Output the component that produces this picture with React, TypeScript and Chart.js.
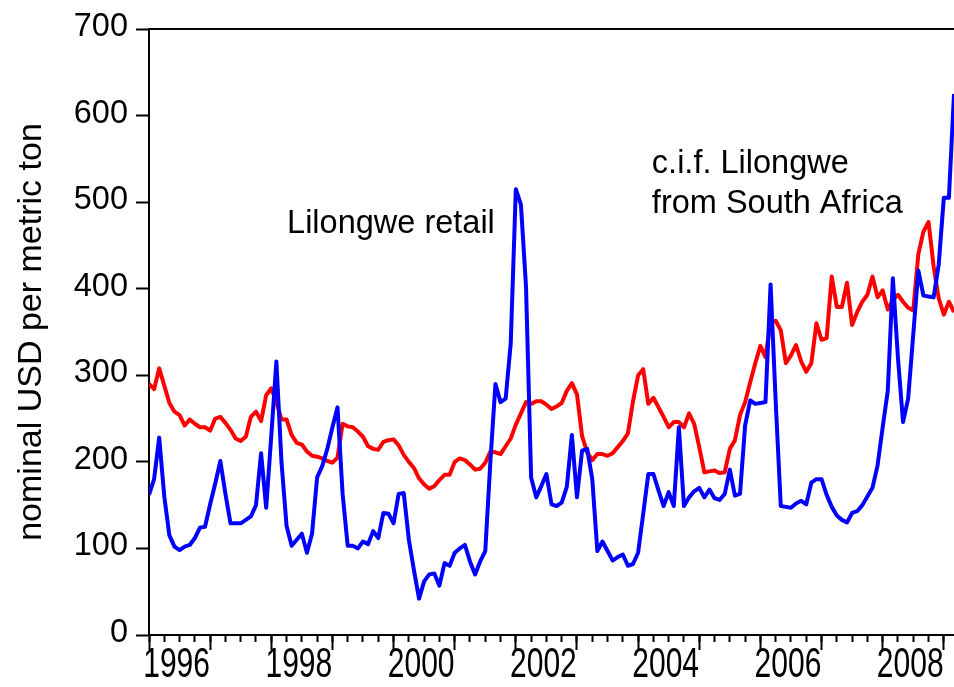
import React, { useEffect, useRef } from 'react';
import { Chart, registerables } from 'chart.js';

Chart.register(...registerables);

// Monthly observations, Jan 1996 = index 0
const START_YEAR = 1996;

// Lilongwe retail maize price (nominal USD / metric ton)
const retailLilongwe = [
  162, 180, 228, 160, 115, 102, 98, 102, 104, 112,
  124, 125, 151, 175, 201, 163, 129, 129, 129, 133,
  137, 150, 210, 147, 230, 316, 200, 126, 103, 110,
  117, 95, 117, 182, 195, 215, 240, 263, 163, 103,
  103, 100, 108, 105, 120, 112, 141, 140, 129, 163,
  164, 110, 75, 42, 62, 70, 71, 57, 83, 80,
  95, 100, 104, 85, 70, 85, 97, 200, 290, 269,
  273, 337, 515, 497, 402, 182, 159, 172, 186, 151,
  149, 153, 171, 231, 159, 213, 215, 180, 97, 108,
  97, 86, 90, 93, 80, 82, 95, 140, 186, 186,
  167, 149, 165, 149, 240, 149, 159, 166, 170, 159,
  168, 158, 156, 163, 191, 161, 163, 242, 271, 267,
  268, 269, 405, 270, 149, 148, 147, 152, 155, 151,
  176, 180, 180, 162, 148, 138, 133, 130, 141, 143,
  150, 160, 170, 196, 240, 282, 412, 320, 246, 273,
  347, 421, 392, 391, 390, 428, 505, 505, 625,
];

// c.i.f. Lilongwe from South Africa (nominal USD / metric ton)
const cifFromSouthAfrica = [
  290, 284, 308, 288, 268, 258, 254, 242, 249, 244,
  240, 240, 236, 250, 252, 245, 237, 227, 224, 229,
  252, 258, 247, 277, 285, 269, 249, 249, 231, 222,
  220, 212, 207, 206, 204, 201, 199, 205, 244, 241,
  240, 235, 229, 218, 215, 214, 223, 225, 226, 219,
  208, 200, 193, 181, 174, 169, 172, 179, 185, 185,
  200, 204, 202, 197, 191, 192, 199, 212, 211, 209,
  218, 227, 243, 256, 269, 267, 270, 270, 266, 261,
  264, 268, 282, 291, 278, 230, 211, 202, 209, 209,
  207, 210, 217, 224, 233, 270, 300, 307, 267, 274,
  263, 252, 240, 246, 246, 240, 256, 244, 217, 188,
  189, 190, 187, 188, 215, 225, 254, 269, 292, 314,
  334, 321, 362, 363, 352, 314, 323, 335, 316, 304,
  314, 360, 341, 343, 414, 379, 379, 407, 358, 373,
  385, 393, 414, 390, 398, 376, 387, 393, 385, 378,
  375, 440, 466, 477, 426, 389, 370, 385, 373,
];

const yTickValues = [0, 100, 200, 300, 400, 500, 600, 700];
const yearLabels = ['1996', '1998', '2000', '2002', '2004', '2006', '2008'];
const seriesNames = ['Lilongwe retail', 'c.i.f. Lilongwe', 'from South Africa'];
const yTitle = 'nominal USD per metric ton';

// ---- layout / style (not data) ----
const FONT = "'Liberation Sans', Arial, Helvetica, sans-serif";
const W = 954;
const H = 687;
const X_LABEL_STRETCH = 1.4;
const X_TICK_LEN = 7;
const X_LABEL_PAD = 5;
const X_LABEL_SIZE = 30;
// text anchors in data units (month index, value)
const textAnchors = [
  { x: 27.1, y: 464 },
  { x: 98.7, y: 534 },
  { x: 98.7, y: 487 },
];

export default function App() {
  const ref = useRef<HTMLCanvasElement | null>(null);

  useEffect(() => {
    const canvas = ref.current;
    if (!canvas) return;
    const xMax = retailLilongwe.length - 1;
    const toPts = (arr: number[]) => arr.map((v, i) => ({ x: i, y: v }));

    const minorTicks: number[] = [];
    for (let m = 0; m <= xMax; m += 3) minorTicks.push(m);
    const majorTicks: number[] = [];
    for (let m = 0; m <= xMax; m += 12) majorTicks.push(m);
    const labelAt = new Map<number, string>();
    yearLabels.forEach((y) => labelAt.set((Number(y) - START_YEAR) * 12 + 6, y));

    const stretchPlugin = {
      id: 'stretchXLabels',
      afterLayout(chart: any) {
        const sc: any = chart.scales.x;
        if (!sc || sc.__stretched) return;
        const orig = sc.drawLabels.bind(sc);
        sc.drawLabels = (area: any) => {
          const ctx = chart.ctx;
          const y0 = sc.top + X_TICK_LEN + X_LABEL_PAD + (X_LABEL_SIZE * 1.2) / 2;
          ctx.save();
          ctx.translate(0, y0);
          ctx.scale(1, X_LABEL_STRETCH);
          ctx.translate(0, -y0);
          orig(area);
          ctx.restore();
        };
        sc.__stretched = true;
      },
    };

    const textPlugin = {
      id: 'seriesText',
      afterDatasetsDraw(chart: any) {
        const { ctx, scales } = chart;
        ctx.save();
        ctx.font = `32.5px ${FONT}`;
        ctx.fillStyle = '#000';
        ctx.textAlign = 'left';
        ctx.textBaseline = 'alphabetic';
        seriesNames.forEach((t, i) => {
          const a = textAnchors[i];
          ctx.fillText(t, scales.x.getPixelForValue(a.x), scales.y.getPixelForValue(a.y));
        });
        ctx.restore();
      },
    };

    const chart = new Chart(canvas, {
      type: 'line',
      data: {
        datasets: [
          {
            label: 'Lilongwe retail',
            data: toPts(retailLilongwe),
            borderColor: '#0000ff',
            backgroundColor: '#0000ff',
            borderWidth: 4,
            pointRadius: 0,
            tension: 0,
            borderJoinStyle: 'round',
          },
          {
            label: 'c.i.f. Lilongwe from South Africa',
            data: toPts(cifFromSouthAfrica),
            borderColor: '#ff0000',
            backgroundColor: '#ff0000',
            borderWidth: 4,
            pointRadius: 0,
            tension: 0,
            borderJoinStyle: 'round',
          },
        ],
      },
      options: {
        responsive: false,
        maintainAspectRatio: false,
        animation: false,
        devicePixelRatio: 1,
        layout: { padding: { top: 29, left: 0, right: 0, bottom: 0 } },
        plugins: { legend: { display: false }, tooltip: { enabled: false } },
        scales: {
          x: {
            type: 'linear',
            position: 'bottom',
            min: 0,
            max: xMax,
            afterBuildTicks: (s: any) => {
              s.ticks = minorTicks.map((v) => ({ value: v }));
            },
            afterFit: (s: any) => {
              s.height = 52;
            },
            grid: {
              drawOnChartArea: false,
              drawTicks: true,
              tickLength: X_TICK_LEN,
              tickWidth: 2,
              tickColor: '#000',
            },
            border: { display: true, width: 2, color: '#000' },
            ticks: {
              autoSkip: false,
              maxRotation: 0,
              minRotation: 0,
              padding: X_LABEL_PAD,
              labelOffset: -3,
              color: '#000',
              font: { family: FONT, size: X_LABEL_SIZE },
              callback: (v: any) => labelAt.get(Number(v)) ?? '',
            },
          },
          xMajor: {
            type: 'linear',
            axis: 'x',
            position: { y: 0 },
            min: 0,
            max: xMax,
            afterBuildTicks: (s: any) => {
              s.ticks = majorTicks.map((v) => ({ value: v }));
            },
            grid: {
              drawOnChartArea: false,
              drawTicks: true,
              tickLength: 15,
              tickWidth: 2,
              tickColor: '#000',
            },
            border: { display: false },
            ticks: { display: false },
          },
          xTop: {
            type: 'linear',
            axis: 'x',
            position: { y: 700 },
            min: 0,
            max: xMax,
            grid: { display: true, drawOnChartArea: false, drawTicks: false },
            border: { display: true, width: 2, color: '#000' },
            ticks: { display: false },
          },
          y: {
            type: 'linear',
            position: 'left',
            min: 0,
            max: 700,
            afterBuildTicks: (s: any) => {
              s.ticks = yTickValues.map((v) => ({ value: v }));
            },
            afterFit: (s: any) => {
              s.width = 149;
            },
            grid: {
              drawOnChartArea: false,
              drawTicks: true,
              tickLength: 13,
              tickWidth: 2,
              tickColor: '#000',
            },
            border: { display: true, width: 2, color: '#000' },
            ticks: {
              padding: 8,
              labelOffset: -2,
              color: '#000',
              font: { family: FONT, size: 32.5 },
            },
            title: {
              display: true,
              text: yTitle,
              color: '#000',
              font: { family: FONT, size: 34 },
              padding: { top: 11, bottom: 0 },
            },
          },
        },
      } as any,
      plugins: [stretchPlugin, textPlugin],
    });

    return () => chart.destroy();
  }, []);

  return (
    <div
      style={{
        position: 'fixed',
        left: 0,
        top: 0,
        width: W,
        height: H,
        overflow: 'hidden',
        background: '#fff',
      }}
    >
      <canvas ref={ref} width={W} height={H} style={{ display: 'block' }} />
    </div>
  );
}
